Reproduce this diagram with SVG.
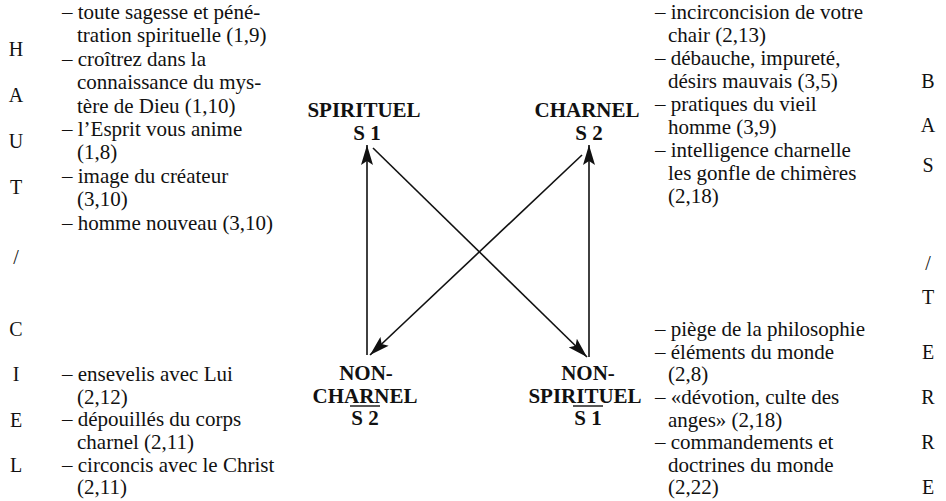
<svg xmlns="http://www.w3.org/2000/svg" width="946" height="501" viewBox="0 0 946 501">
<style>
text{font-family:"Liberation Serif","Times New Roman",serif;fill:#111}
.t{font-size:21px}
.l{font-size:20px;text-anchor:middle}
.b{font-size:21px;font-weight:bold;text-anchor:middle}
.c{stroke:#111;stroke-width:1.6;fill:none}
.ov{stroke:#111;stroke-width:1.4}
</style>
<defs>
<marker id="ah" viewBox="0 0 20 12" refX="20" refY="6" markerWidth="20" markerHeight="12" markerUnits="userSpaceOnUse" orient="auto">
<path d="M0,0 L20,6 L0,12 L4,6 Z" fill="#111"/>
</marker>
</defs>
<rect width="946" height="501" fill="#fff"/>
<g id="haut-ciel">
<text class="l" x="16" y="56">H</text>
<text class="l" x="16" y="102">A</text>
<text class="l" x="16" y="148">U</text>
<text class="l" x="16" y="194">T</text>
<text class="l" x="16" y="264">/</text>
<text class="l" x="16" y="336">C</text>
<text class="l" x="16" y="381">I</text>
<text class="l" x="16" y="427">E</text>
<text class="l" x="16" y="472">L</text>
</g>
<g id="bas-terre">
<text class="l" x="928" y="88">B</text>
<text class="l" x="928" y="132">A</text>
<text class="l" x="928" y="172">S</text>
<text class="l" x="928" y="270">/</text>
<text class="l" x="928" y="304">T</text>
<text class="l" x="928" y="359">E</text>
<text class="l" x="928" y="404">R</text>
<text class="l" x="928" y="449">R</text>
<text class="l" x="928" y="494">E</text>
</g>
<g id="list-spirituel">
<text class="t" x="62" y="19">– toute sagesse et péné-</text>
<text class="t" x="77" y="42">tration spirituelle (1,9)</text>
<text class="t" x="62" y="66">– croîtrez dans la</text>
<text class="t" x="77" y="89">connaissance du mys-</text>
<text class="t" x="77" y="113">tère de Dieu (1,10)</text>
<text class="t" x="62" y="136">– l’Esprit vous anime</text>
<text class="t" x="77" y="159">(1,8)</text>
<text class="t" x="62" y="183">– image du créateur</text>
<text class="t" x="77" y="206">(3,10)</text>
<text class="t" x="62" y="230">– homme nouveau (3,10)</text>
</g>
<g id="list-noncharnel">
<text class="t" x="62" y="381">– ensevelis avec Lui</text>
<text class="t" x="77" y="404">(2,12)</text>
<text class="t" x="62" y="426">– dépouillés du corps</text>
<text class="t" x="77" y="449">charnel (2,11)</text>
<text class="t" x="62" y="472">– circoncis avec le Christ</text>
<text class="t" x="77" y="494">(2,11)</text>
</g>
<g id="list-charnel">
<text class="t" x="655" y="19">– incirconcision de votre</text>
<text class="t" x="668" y="42">chair (2,13)</text>
<text class="t" x="655" y="65">– débauche, impureté,</text>
<text class="t" x="668" y="88">désirs mauvais (3,5)</text>
<text class="t" x="655" y="111">– pratiques du vieil</text>
<text class="t" x="668" y="134">homme (3,9)</text>
<text class="t" x="655" y="157">– intelligence charnelle</text>
<text class="t" x="668" y="180">les gonfle de chimères</text>
<text class="t" x="668" y="203">(2,18)</text>
</g>
<g id="list-nonspirituel">
<text class="t" x="655" y="336">– piège de la philosophie</text>
<text class="t" x="655" y="359">– éléments du monde</text>
<text class="t" x="668" y="381">(2,8)</text>
<text class="t" x="655" y="404">– «dévotion, culte des</text>
<text class="t" x="668" y="427">anges» (2,18)</text>
<text class="t" x="655" y="449">– commandements et</text>
<text class="t" x="668" y="472">doctrines du monde</text>
<text class="t" x="668" y="494">(2,22)</text>
</g>
<g id="spirituel">
<text class="b" x="364" y="117">SPIRITUEL</text>
<text class="b" x="367" y="140">S 1</text>
</g>
<g id="charnel">
<text class="b" x="587" y="117">CHARNEL</text>
<text class="b" x="589" y="140">S 2</text>
</g>
<g id="non-charnel">
<text class="b" x="366" y="380">NON-</text>
<text class="b" x="365" y="403">CHARNEL</text>
<text class="b" x="365" y="425">S 2</text>
<line class="ov" x1="350" y1="406" x2="380" y2="406"/>
</g>
<g id="non-spirituel">
<text class="b" x="588" y="380">NON-</text>
<text class="b" x="585" y="403">SPIRITUEL</text>
<text class="b" x="588" y="425">S 1</text>
<line class="ov" x1="573" y1="406" x2="603" y2="406"/>
</g>
<g id="connectors">
<line class="c" x1="367" y1="355" x2="367" y2="145" marker-end="url(#ah)"/>
<line class="c" x1="589" y1="357" x2="589" y2="145" marker-end="url(#ah)"/>
<line class="c" x1="373" y1="148" x2="587" y2="357" marker-end="url(#ah)"/>
<line class="c" x1="582" y1="155" x2="370" y2="355" marker-end="url(#ah)"/>
</g>
</svg>
